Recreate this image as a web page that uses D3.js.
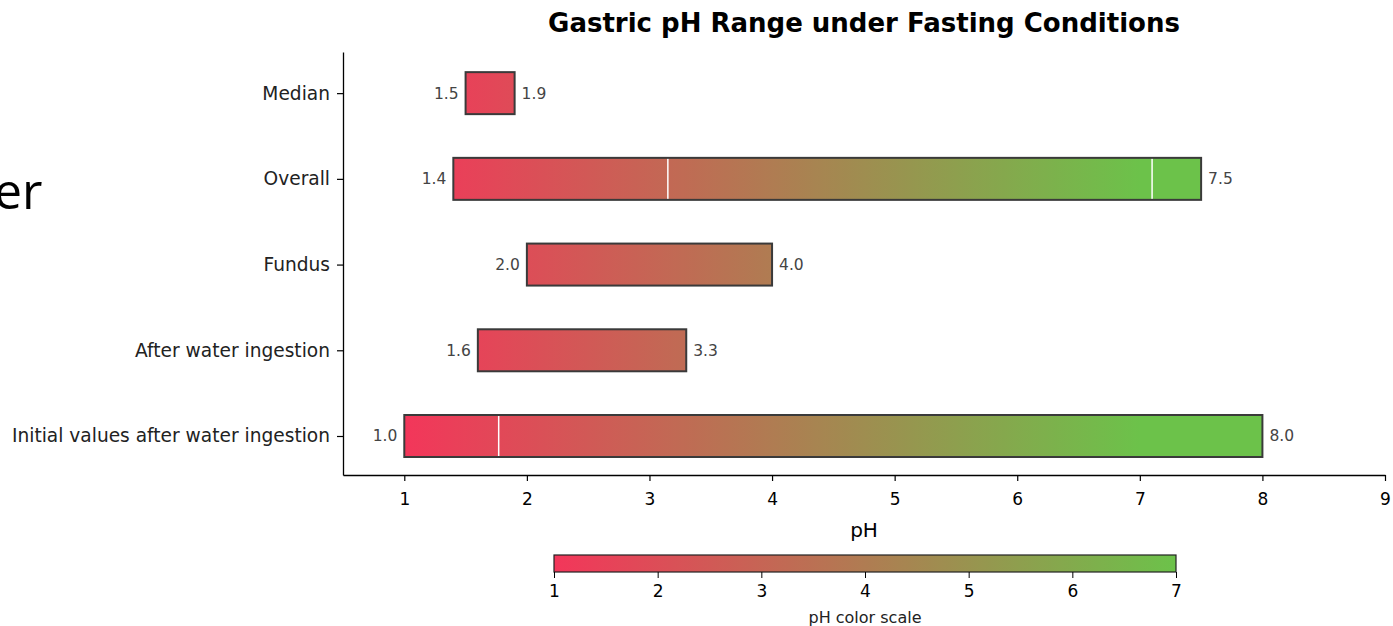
<!DOCTYPE html>
<html>
<head>
<meta charset="utf-8">
<script src="https://cdn.jsdelivr.net/npm/d3@7"></script>
<style>
  body { margin: 0; background: #fff; }
  svg { display: block; font-family: "DejaVu Sans", sans-serif; }
</style>
</head>
<body>
<svg id="chart" width="1393" height="626"></svg>
<script>
// ---- data ----
const categories = ["Initial values after water ingestion", "After water ingestion", "Fundus", "Overall", "Median"];
const lowValues  = [1.0, 1.6, 2.0, 1.4, 1.5];
const highValues = [8.0, 3.3, 4.0, 7.5, 1.9];
// white separator lines inside bars (category, pH)
const separatorCats = ["Initial values after water ingestion", "Overall", "Overall"];
const separatorPH   = [1.77, 3.15, 7.1];
const xTicks = [1, 2, 3, 4, 5, 6, 7, 8, 9];
const cbTicks = [1, 2, 3, 4, 5, 6, 7];
const colorStops = ["#f3365a", "#6cc24a"];

const svg = d3.select("#chart");
const FONT = "'DejaVu Sans', sans-serif";

// clipped side text
svg.append("text").attr("x", -6).attr("y", 209)
  .attr("font-family", "'Open Sans', 'Noto Sans', sans-serif")
  .attr("font-size", 50).attr("fill", "#000").text("er");

const x = d3.scaleLinear().domain([0.5, 9]).range([343, 1385]);
const y = d3.scaleLinear().domain([-0.455, 4.48]).range([475, 52]);
const barH = y(0) - y(0.49);

const colorDomain = [1, 7];
const defs = svg.append("defs");
const grad = defs.append("linearGradient").attr("id", "phGrad")
  .attr("gradientUnits", "userSpaceOnUse")
  .attr("x1", x(colorDomain[0])).attr("x2", x(colorDomain[1]))
  .attr("y1", 0).attr("y2", 0).attr("spreadMethod", "pad");
grad.selectAll("stop").data(colorStops).join("stop")
  .attr("offset", (d, i) => i / (colorStops.length - 1))
  .attr("stop-color", d => d);

// title
svg.append("text").attr("x", 864).attr("y", 32).attr("text-anchor", "middle")
  .attr("font-family", FONT).attr("font-weight", "bold").attr("font-size", 26).attr("fill", "#000")
  .text("Gastric pH Range under Fasting Conditions");

// bars
const rows = categories.map((c, i) => ({ cat: c, i, lo: lowValues[i], hi: highValues[i] }));
const g = svg.append("g");
g.selectAll("rect.bar").data(rows).join("rect").attr("class", "bar")
  .attr("x", d => x(d.lo)).attr("width", d => x(d.hi) - x(d.lo))
  .attr("y", d => y(d.i) - barH / 2).attr("height", barH)
  .attr("fill", "url(#phGrad)");

// separators
const seps = separatorCats.map((c, k) => ({ i: categories.indexOf(c), v: separatorPH[k] }));
g.selectAll("line.sep").data(seps).join("line").attr("class", "sep")
  .attr("x1", d => x(d.v)).attr("x2", d => x(d.v))
  .attr("y1", d => y(d.i) - barH / 2).attr("y2", d => y(d.i) + barH / 2)
  .attr("stroke", "#fff").attr("stroke-width", 1.5);

g.selectAll("rect.border").data(rows).join("rect").attr("class", "border")
  .attr("x", d => x(d.lo)).attr("width", d => x(d.hi) - x(d.lo))
  .attr("y", d => y(d.i) - barH / 2).attr("height", barH)
  .attr("fill", "none").attr("stroke", "#3a3a3a").attr("stroke-width", 2);

// value labels
g.selectAll("text.lo").data(rows).join("text").attr("class", "lo")
  .attr("x", d => x(d.lo) - 7).attr("y", d => y(d.i)).attr("dy", "0.35em")
  .attr("text-anchor", "end").attr("font-family", FONT).attr("font-size", 15.5).attr("fill", "#444")
  .text(d => d.lo.toFixed(1));
g.selectAll("text.hi").data(rows).join("text").attr("class", "hi")
  .attr("x", d => x(d.hi) + 7).attr("y", d => y(d.i)).attr("dy", "0.35em")
  .attr("text-anchor", "start").attr("font-family", FONT).attr("font-size", 15.5).attr("fill", "#444")
  .text(d => d.hi.toFixed(1));

// axes
const xAxis = svg.append("g").attr("transform", `translate(0,475)`)
  .call(d3.axisBottom(x).tickValues(xTicks).tickFormat(d3.format("d")).tickSizeInner(6).tickSizeOuter(0).tickPadding(12));
xAxis.select(".domain").attr("stroke", "#000").attr("stroke-width", 1.3);
xAxis.selectAll(".tick line").attr("stroke-width", 1.2);
xAxis.selectAll("text").attr("font-size", 17).attr("fill", "#000").attr("font-family", FONT);

const yAxis = svg.append("g").attr("transform", `translate(343,0)`)
  .call(d3.axisLeft(y).tickValues(d3.range(categories.length)).tickFormat(i => categories[i]).tickSizeInner(6).tickSizeOuter(0).tickPadding(7));
yAxis.select(".domain").attr("stroke", "#000").attr("stroke-width", 1.3);
yAxis.selectAll(".tick line").attr("stroke-width", 1.2);
yAxis.selectAll("text").attr("font-size", 18.6).attr("fill", "#222").attr("font-family", FONT);

svg.append("text").attr("x", 864).attr("y", 537).attr("text-anchor", "middle")
  .attr("font-family", FONT).attr("font-size", 20).attr("fill", "#000").text("pH");

// colorbar
const cb = d3.scaleLinear().domain(colorDomain).range([554, 1176]);
const cgrad = defs.append("linearGradient").attr("id", "cbGrad")
  .attr("gradientUnits", "userSpaceOnUse")
  .attr("x1", cb(colorDomain[0])).attr("x2", cb(colorDomain[1])).attr("y1", 0).attr("y2", 0);
cgrad.selectAll("stop").data(colorStops).join("stop")
  .attr("offset", (d, i) => i / (colorStops.length - 1))
  .attr("stop-color", d => d);
svg.append("rect").attr("x", cb(1)).attr("y", 555).attr("width", cb(7) - cb(1)).attr("height", 17)
  .attr("fill", "url(#cbGrad)").attr("stroke", "#222").attr("stroke-width", 1.2);
const cbAxis = svg.append("g").attr("transform", "translate(0,572)")
  .call(d3.axisBottom(cb).tickValues(cbTicks).tickFormat(d3.format("d")).tickSizeInner(6).tickSizeOuter(0).tickPadding(7));
cbAxis.select(".domain").remove();
cbAxis.selectAll("text").attr("font-size", 17).attr("fill", "#000").attr("font-family", FONT);
svg.append("text").attr("x", 865).attr("y", 623).attr("text-anchor", "middle")
  .attr("font-family", FONT).attr("font-size", 16).attr("fill", "#222").text("pH color scale");
</script>
</body>
</html>
